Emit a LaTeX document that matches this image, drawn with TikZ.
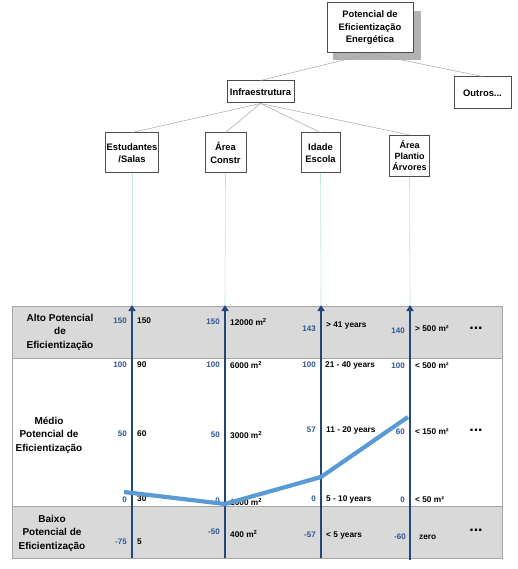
\documentclass[tikz,border=0pt]{standalone}
\usepackage{fontspec}
\setmainfont{Liberation Sans}
\usetikzlibrary{arrows.meta}
\definecolor{axisblue}{HTML}{24477A}
\definecolor{numblue}{HTML}{2F5590}
\definecolor{lineblue}{HTML}{5B9BD5}
\definecolor{rowgray}{HTML}{D9D9D9}
\definecolor{bordergray}{HTML}{A6A6A6}
\definecolor{teal}{HTML}{BFE6DC}
\tikzset{
  x=1pt, y=-1pt,
  treebox/.style={draw=black!70, line width=1pt, fill=white, align=center,
    font=\fontsize{9.4}{12.5}\selectfont\bfseries, inner sep=1pt},
  treeline/.style={draw=black!35, line width=0.5pt},
  guide/.style={draw=teal, line width=0.6pt},
  axisline/.style={draw=axisblue, line width=2.6pt, -{Triangle[width=7pt,length=6pt]}},
  bnum/.style={anchor=east, text=numblue, font=\fontsize{8}{9}\selectfont\bfseries, inner sep=0pt},
  blab/.style={anchor=west, font=\fontsize{8.3}{9}\selectfont\bfseries, inner sep=0pt},
  rowlab/.style={align=center, font=\fontsize{10}{13.5}\selectfont\bfseries, inner sep=0pt},
  dots/.style={font=\fontsize{16}{16}\selectfont\bfseries, inner sep=0pt},
  trend/.style={draw=lineblue, line width=4.2pt, line join=miter}
}
\begin{document}
\begin{tikzpicture}
\useasboundingbox (0,0) rectangle (517,569);
% table
\fill[rowgray] (12,306) rectangle (502,358);
\fill[white] (12,358) rectangle (502,506);
\fill[rowgray] (12,506) rectangle (502,558);
\draw[bordergray, line width=0.8pt] (12,306) rectangle (502,558);
\draw[bordergray, line width=0.8pt] (12,358) -- (502,358);
\draw[bordergray, line width=0.8pt] (12,506) -- (502,506);
% row labels
\node[rowlab] (alto) at (60,332) {Alto Potencial\\de\\Eficientização};
\node[rowlab] (medio) at (49,435) {Médio\\Potencial de\\Eficientização};
\node[rowlab] (baixo) at (52,533) {Baixo\\Potencial de\\Eficientização};
% tree
\fill[black!30] (333,11) rectangle (421,60);
\node[treebox, minimum width=86pt, minimum height=50pt] (top) at (370,28) {Potencial de\\Eficientização\\Energética};
\node[treebox, minimum width=57pt, minimum height=32pt] (outros) at (482.5,93) {Outros...};
\node[treebox, minimum width=67pt, minimum height=22pt] (infra) at (260.5,92) {Infraestrutura};
\node[treebox, minimum width=52pt, minimum height=40pt] (c1) at (132,153) {Estudantes\\/Salas};
\node[treebox, minimum width=41pt, minimum height=40pt] (c2) at (225.5,153) {Área\\Constr};
\node[treebox, minimum width=39pt, minimum height=40pt] (c3) at (320.5,153) {Idade\\Escola};
\node[treebox, minimum width=40pt, minimum height=41pt, font=\fontsize{9}{11}\selectfont\bfseries] (c4) at (409.5,156) {Área\\Plantio\\Árvores};
\draw[treeline] (top.south) -- (infra.north);
\draw[treeline] (top.south) -- (outros.north);
\foreach \c in {c1,c2,c3,c4} \draw[treeline] (infra.south) -- (\c.north);
% axis coordinates
\coordinate (a1t) at (132,305); \coordinate (a1b) at (132,558);
\coordinate (a2t) at (225,305); \coordinate (a2b) at (225,558);
\coordinate (a3t) at (321,305); \coordinate (a3b) at (321,558);
\coordinate (a4t) at (410,305); \coordinate (a4b) at (410,560);
\draw[guide] (c1.south) -- (a1t);
\draw[guide] (c2.south) -- (a2t);
\draw[guide] (c3.south) -- (a3t);
\draw[guide] (c4.south) -- (a4t);
% labels axis 1
\node[bnum] (n11) at (127,321) {150};
\node[bnum] (n12) at (127,365) {100};
\node[bnum] (n13) at (127,434) {50};
\node[bnum] (n14) at (127,500) {0};
\node[bnum] (n15) at (127,542) {-75};
\node[blab] (l11) at (137,321) {150};
\node[blab] (l12) at (137,365) {90};
\node[blab] (l13) at (137,434) {60};
\node[blab] (l14) at (137,499) {30};
\node[blab] (l15) at (137,542) {5};
% axis 2
\node[bnum] (n21) at (220,322) {150};
\node[bnum] (n22) at (220,365) {100};
\node[bnum] (n23) at (220,435) {50};
\node[bnum] (n24) at (220,501) {0};
\node[bnum] (n25) at (220,532) {-50};
\node[blab] (l21) at (230,322) {12000 m\textsuperscript{2}};
\node[blab] (l22) at (230,365) {6000 m\textsuperscript{2}};
\node[blab] (l23) at (230,435) {3000 m\textsuperscript{2}};
\node[blab] (l24) at (230,502) {1000 m\textsuperscript{2}};
\node[blab] (l25) at (230,534) {400 m\textsuperscript{2}};
% axis 3
\node[bnum] (n31) at (316,329) {143};
\node[bnum] (n32) at (316,365) {100};
\node[bnum] (n33) at (316,430) {57};
\node[bnum] (n34) at (316,499) {0};
\node[bnum] (n35) at (316,535) {-57};
\node[blab] (l31) at (326,326) {> 41 years};
\node[blab] (l32) at (325,365) {21 - 40 years};
\node[blab] (l33) at (326,430) {11 - 20 years};
\node[blab] (l34) at (326,499) {5 - 10 years};
\node[blab] (l35) at (326,535) {< 5 years};
% axis 4
\node[bnum] (n41) at (405,331) {140};
\node[bnum] (n42) at (405,366) {100};
\node[bnum] (n43) at (405,432) {60};
\node[bnum] (n44) at (405,500) {0};
\node[bnum] (n45) at (406,537) {-60};
\node[blab] (l41) at (415,329) {> 500 m²};
\node[blab] (l42) at (415,366) {< 500 m²};
\node[blab] (l43) at (415,432) {< 150 m²};
\node[blab] (l44) at (415,500) {< 50 m²};
\node[blab] (l45) at (419,537) {zero};
% dots
\node[dots] (d1) at (476,328) {...};
\node[dots] (d2) at (476,430) {...};
\node[dots] (d3) at (476,530) {...};
% axes
\draw[axisline] (a1b) -- (a1t);
\draw[axisline] (a2b) -- (a2t);
\draw[axisline] (a3b) -- (a3t);
\draw[axisline] (a4b) -- (a4t);
% trend
\coordinate (p1) at (124,492);
\coordinate (p2) at (225,504);
\coordinate (p3) at (321,477);
\coordinate (p4) at (408,417);
\draw[trend] (p1) -- (p2) -- (p3) -- (p4);
\end{tikzpicture}
\end{document}
